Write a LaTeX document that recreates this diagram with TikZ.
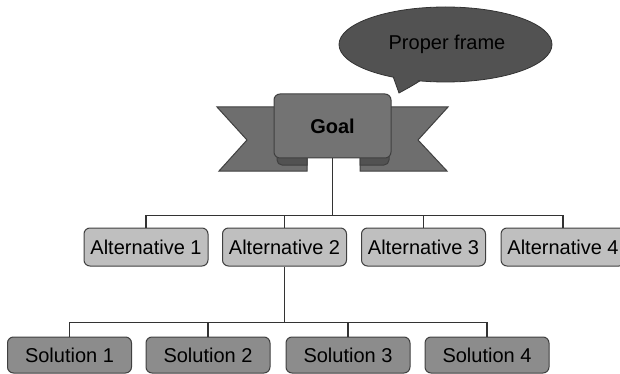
\documentclass[tikz,border=0pt]{standalone}
\usepackage{fontspec}
\setmainfont{Liberation Sans}
\begin{document}
\begin{tikzpicture}[x=1pt, y=-1pt,
  every node/.style={font=\fontsize{20}{24}\selectfont, text=black},
  wire/.style={draw=black!80, line width=1.3pt},
  edgeline/.style={draw=black!75, line width=1pt},
  altbox/.style={edgeline, fill=black!25, rounded corners=6pt,
    minimum width=124pt, minimum height=38pt, inner sep=0pt},
  solbox/.style={edgeline, fill=black!45, rounded corners=6pt,
    minimum width=124pt, minimum height=36pt, inner sep=0pt},
  goalbox/.style={edgeline, fill=black!55, rounded corners=6pt,
    minimum width=117pt, minimum height=64pt, inner sep=0pt, font=\fontsize{20}{24}\selectfont\bfseries},
  ribbon/.style={edgeline, fill=black!57, line join=miter},
  fold/.style={edgeline, fill=black!68},
  bubble/.style={fill=black!68}
]
\useasboundingbox (0,0) rectangle (620,374);
\clip (0,0) rectangle (620,374);

% speech bubble: tail, body, then tail again to hide the seam
\path[bubble, draw=black!80, line width=0.8pt]
  (390,68) -- (399,93) .. controls (408,88) and (416,84) .. (430,74) -- cycle;
\path[bubble, draw=black!80, line width=0.8pt] (445.5,44.5) ellipse [x radius=106.5, y radius=37.5];
\fill[black!68] (391.5,70) -- (399.3,90.5) .. controls (408,86) and (416,82) .. (428,74) -- cycle;
\node (frame) at (447,44) {Proper frame};

% ribbon behind the goal box
\path[ribbon] (217,107) -- (300,107) -- (300,158) -- (307,158) -- (307,171)
  -- (219,171) -- (247,140) -- cycle;
\path[ribbon] (448,107) -- (370,107) -- (370,158) -- (360,158) -- (360,171)
  -- (447,171) -- (418,140) -- cycle;
\path[fold] (307,150) -- (307,165) -- (282,165) to[out=180,in=270] (277,160) -- (277,150) -- cycle;
\path[fold] (360,150) -- (360,165) -- (384,165) to[out=0,in=270] (389,160) -- (389,150) -- cycle;

\node[goalbox] (goal) at (332.5,126) {Goal};

% alternatives
\node[altbox] (a1) at (146,247) {Alternative 1};
\node[altbox] (a2) at (284.5,247) {Alternative 2};
\node[altbox] (a3) at (423.5,247) {Alternative 3};
\node[altbox] (a4) at (563,247) {Alternative 4};

% solutions
\node[solbox] (s1) at (69.5,355) {Solution 1};
\node[solbox] (s2) at (208,355) {Solution 2};
\node[solbox] (s3) at (348,355) {Solution 3};
\node[solbox] (s4) at (487,355) {Solution 4};

% tree connectors
\coordinate (j1) at (332.5,215.5);
\coordinate (j2) at (284.5,322.5);
\draw[wire] (goal.south) -- (j1);
\draw[wire] (a1.north) |- (j1) -| (a4.north);
\draw[wire] (j1) -| (a2.north);
\draw[wire] (j1) -| (a3.north);
\draw[wire] (a2.south) -- (j2);
\draw[wire] (s1.north) |- (j2) -| (s4.north);
\draw[wire] (j2) -| (s2.north);
\draw[wire] (j2) -| (s3.north);
\end{tikzpicture}
\end{document}
